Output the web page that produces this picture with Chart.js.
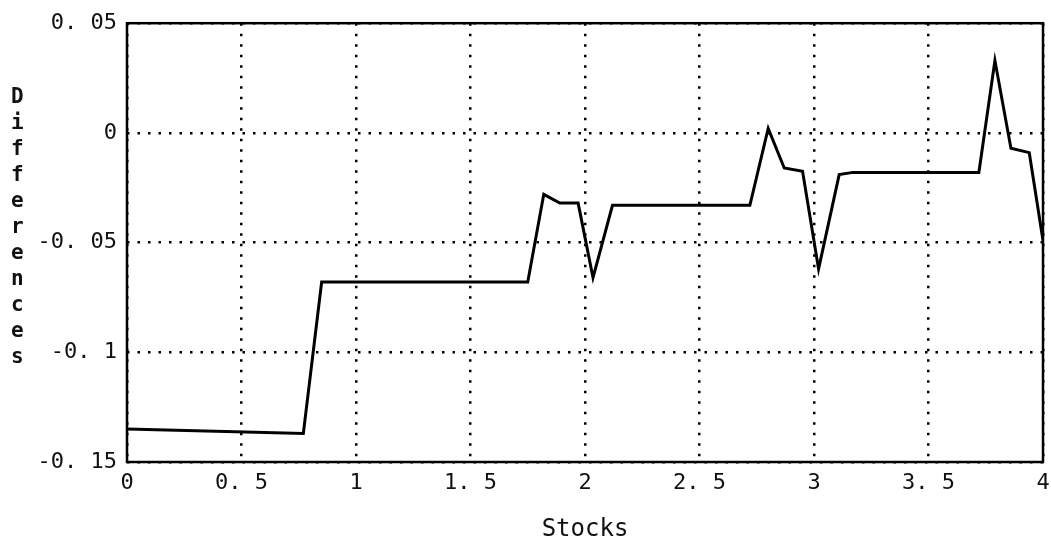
<!DOCTYPE html>
<html>
<head>
<meta charset="utf-8">
<script src="https://cdn.jsdelivr.net/npm/chart.js@4"></script>
<style>
  body { margin: 0; background: #fff; }
  #wrap { position: relative; width: 1051px; height: 550px; }
  #ylabel {
    position: absolute; left: 11px; top: 83px;
    width: 1ch; word-break: break-all;
    font: bold 21px "DejaVu Sans Mono", monospace; line-height: 26px; color: #111;
  }
</style>
</head>
<body>
<div id="wrap">
  <canvas id="chart" width="1051" height="550"></canvas>
  <div id="ylabel">Differences</div>
</div>
<script>
const stocks = [0, 0.77, 0.85, 1.75, 1.82, 1.89, 1.97, 2.035, 2.12, 2.72, 2.80, 2.87, 2.95, 3.02, 3.11, 3.17, 3.72, 3.79, 3.86, 3.94, 4.0];
const differences = [-0.135, -0.137, -0.068, -0.068, -0.028, -0.032, -0.032, -0.066, -0.033, -0.033, 0.002, -0.016, -0.0175, -0.062, -0.019, -0.018, -0.018, 0.033, -0.007, -0.009, -0.049];

const tickFont = { family: '"DejaVu Sans Mono", monospace', size: 22 };

function spaced (v) {
  return String(Math.round(v * 100) / 100).replace('.', '. ');
}

const frame = {
  id: 'frame',
  beforeDatasetsDraw (chart) {
    const { ctx, chartArea: a } = chart;
    ctx.save();
    ctx.strokeStyle = '#000';
    ctx.lineWidth = 2.5;
    ctx.strokeRect(a.left, a.top, a.right - a.left, a.bottom - a.top);
    ctx.restore();
  }
};

// eslint-disable-next-line no-undef
new Chart('chart', {
  type: 'line',
  data: {
    datasets: [{
      data: stocks.map((x, i) => ({ x, y: differences[i] })),
      borderColor: '#000',
      borderWidth: 3,
      pointRadius: 0,
      tension: 0,
      fill: false
    }]
  },
  options: {
    responsive: false,
    animation: false,
    layout: { padding: { top: 22, right: 0, left: 0, bottom: 0 } },
    plugins: { legend: { display: false }, tooltip: { enabled: false } },
    scales: {
      x: {
        type: 'linear',
        min: 0,
        max: 4,
        ticks: { stepSize: 0.5, color: '#111', font: tickFont, padding: 8, maxRotation: 0, callback: spaced },
        grid: { color: '#000', lineWidth: 2.5, drawTicks: false },
        border: { display: false, dash: [2.5, 8] },
        title: { display: true, text: 'Stocks', color: '#111', font: { family: '"DejaVu Sans Mono", monospace', size: 24 }, padding: { top: 0, bottom: 6 } },
        afterFit: scale => { scale.height = 88; scale.paddingRight = 8; scale.paddingLeft = 0; }
      },
      y: {
        min: -0.15,
        max: 0.05,
        ticks: { stepSize: 0.05, color: '#111', font: tickFont, padding: 10, callback: spaced },
        grid: { color: '#000', lineWidth: 2.5, drawTicks: false },
        border: { display: false, dash: [2.5, 8] },
        afterFit: scale => { scale.width = 127; }
      }
    }
  },
  plugins: [frame]
});
</script>
</body>
</html>
